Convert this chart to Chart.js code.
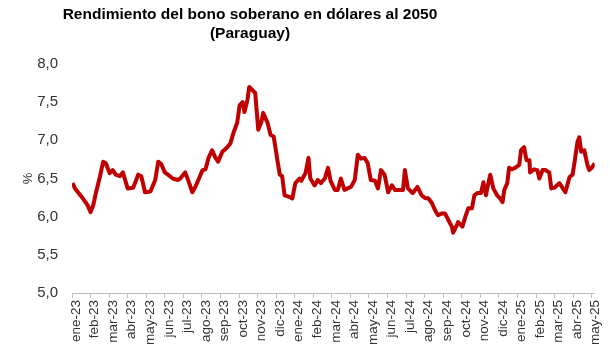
<!DOCTYPE html>
<html>
<head>
<meta charset="utf-8">
<script src="https://cdn.jsdelivr.net/npm/chart.js@4.4.1/dist/chart.umd.min.js"></script>
<style>
  html, body { margin: 0; padding: 0; background: #fff; }
  canvas { display: block; }
</style>
</head>
<body>
<canvas id="bondChart" width="610" height="361"></canvas>
<script>
// Rendimiento bono soberano USD 2050 (Paraguay)

const titleLines = ['Rendimiento del bono soberano en dólares al 2050', '(Paraguay)'];

const monthLabels = [
  'ene-23','feb-23','mar-23','abr-23','may-23','jun-23','jul-23','ago-23','sep-23','oct-23','nov-23','dic-23',
  'ene-24','feb-24','mar-24','abr-24','may-24','jun-24','jul-24','ago-24','sep-24','oct-24','nov-24','dic-24',
  'ene-25','feb-25','mar-25','abr-25','may-25'
];

const yTicks = [5.0, 5.5, 6.0, 6.5, 7.0, 7.5, 8.0];

const dates = [
  '2023-01-02','2023-01-06','2023-01-11','2023-01-19','2023-01-27','2023-02-01','2023-02-05','2023-02-09',
  '2023-02-15','2023-02-20','2023-02-24','2023-03-02','2023-03-07','2023-03-12','2023-03-19','2023-03-24',
  '2023-04-01','2023-04-10','2023-04-18','2023-04-23','2023-04-29','2023-05-08','2023-05-16','2023-05-21',
  '2023-05-26','2023-06-01','2023-06-06','2023-06-14','2023-06-22','2023-06-26','2023-07-04','2023-07-09',
  '2023-07-16','2023-07-21','2023-07-26','2023-08-02','2023-08-07','2023-08-12','2023-08-18','2023-08-23',
  '2023-08-28','2023-09-04','2023-09-12','2023-09-17','2023-09-22','2023-09-28','2023-10-02','2023-10-07',
  '2023-10-10','2023-10-15','2023-10-18','2023-10-23','2023-10-28','2023-11-02','2023-11-07','2023-11-10',
  '2023-11-17','2023-11-22','2023-11-27','2023-12-03','2023-12-07','2023-12-11','2023-12-15','2023-12-23',
  '2023-12-28','2024-01-02','2024-01-09','2024-01-12','2024-01-19','2024-01-24','2024-01-27','2024-02-03',
  '2024-02-08','2024-02-13','2024-02-19','2024-02-24','2024-02-28','2024-03-06','2024-03-11','2024-03-16',
  '2024-03-22','2024-03-27','2024-04-02','2024-04-08','2024-04-13','2024-04-18','2024-04-24','2024-04-29',
  '2024-05-04','2024-05-11','2024-05-16','2024-05-21','2024-05-27','2024-06-02','2024-06-08','2024-06-13',
  '2024-06-21','2024-06-26','2024-06-29','2024-07-04','2024-07-12','2024-07-20','2024-07-27','2024-08-02',
  '2024-08-07','2024-08-13','2024-08-18','2024-08-23','2024-08-29','2024-09-04','2024-09-09','2024-09-15',
  '2024-09-17','2024-09-23','2024-09-25','2024-10-02','2024-10-07','2024-10-12','2024-10-18','2024-10-22',
  '2024-10-27','2024-11-02','2024-11-06','2024-11-10','2024-11-14','2024-11-17','2024-11-22','2024-11-28',
  '2024-12-03','2024-12-07','2024-12-10','2024-12-15','2024-12-18','2024-12-23','2024-12-28','2025-01-04',
  '2025-01-07','2025-01-12','2025-01-16','2025-01-21','2025-01-22','2025-01-29','2025-02-03','2025-02-06',
  '2025-02-11','2025-02-15','2025-02-21','2025-02-24','2025-03-01','2025-03-09','2025-03-14','2025-03-19',
  '2025-03-26','2025-03-31','2025-04-03','2025-04-08','2025-04-11','2025-04-14','2025-04-19','2025-04-24',
  '2025-04-27','2025-05-01','2025-05-06'
];

const yields = [
  6.44,6.37,6.32,6.24,6.15,6.06,6.15,6.31,
  6.52,6.72,6.70,6.57,6.61,6.55,6.53,6.58,
  6.37,6.38,6.55,6.53,6.32,6.33,6.48,6.72,
  6.69,6.58,6.55,6.50,6.48,6.50,6.58,6.48,
  6.32,6.39,6.48,6.61,6.62,6.77,6.87,6.78,
  6.72,6.85,6.91,6.96,7.10,7.23,7.46,7.50,
  7.37,7.53,7.70,7.66,7.62,7.14,7.24,7.36,
  7.23,7.07,7.05,6.74,6.55,6.53,6.28,6.26,
  6.24,6.44,6.50,6.47,6.57,6.77,6.50,6.41,
  6.48,6.44,6.50,6.64,6.47,6.35,6.35,6.50,
  6.35,6.37,6.39,6.48,6.81,6.76,6.77,6.70,
  6.48,6.47,6.37,6.61,6.55,6.32,6.41,6.35,
  6.35,6.35,6.61,6.37,6.31,6.39,6.28,6.24,
  6.24,6.18,6.09,6.02,6.04,6.04,5.96,5.87,
  5.79,5.89,5.93,5.87,6.00,6.11,6.11,6.28,
  6.31,6.31,6.45,6.28,6.44,6.55,6.37,6.28,
  6.24,6.19,6.35,6.44,6.64,6.62,6.64,6.68,
  6.87,6.91,6.74,6.74,6.58,6.62,6.61,6.50,
  6.61,6.61,6.58,6.37,6.38,6.44,6.38,6.32,
  6.52,6.55,6.70,6.98,7.04,6.85,6.87,6.68,
  6.61,6.64,6.70
];

// date string -> fractional month index counted from ene-23
function monthIndex(str){
  const [y, m, d] = str.split('-').map(Number);
  const daysInMonth = new Date(y, m, 0).getDate();
  return (y - 2023) * 12 + (m - 1) + (d - 1) / daysInMonth;
}

const points = dates.map((d, i) => ({ x: monthIndex(d), y: yields[i] }));
const fmt = v => v.toFixed(1).replace('.', ',');

const titlePlugin = {
  id: 'excelTitle',
  afterDraw(chart){
    const ctx = chart.ctx;
    ctx.save();
    ctx.fillStyle = '#000';
    ctx.font = 'bold 15.5px "Liberation Sans", Arial, sans-serif';
    ctx.textAlign = 'center';
    ctx.textBaseline = 'middle';
    titleLines.forEach((t, i) => ctx.fillText(t, 250, 15 + i * 19));
    ctx.restore();
  }
};

new Chart(document.getElementById('bondChart').getContext('2d'), {
  type: 'line',
  data: {
    datasets: [{
      data: points,
      borderColor: '#C00000',
      borderWidth: 4,
      borderJoinStyle: 'round',
      pointRadius: 0,
      tension: 0,
      fill: false
    }]
  },
  options: {
    responsive: false,
    animation: false,
    layout: { padding: { top: 64, right: 15, left: 0, bottom: 0 } },
    plugins: { legend: { display: false }, tooltip: { enabled: false }, title: { display: false } },
    scales: {
      x: {
        type: 'linear',
        min: 0,
        max: points[points.length - 1].x,
        afterBuildTicks: s => { s.ticks = monthLabels.map((_, i) => ({ value: i })); },
        afterFit: s => { s.height = 68; },
        ticks: {
          autoSkip: false,
          minRotation: 90,
          maxRotation: 90,
          labelOffset: 4,
          padding: 2,
          color: '#333',
          font: { family: '"Liberation Sans", Arial, sans-serif', size: 13.5 },
          callback: v => monthLabels[v]
        },
        grid: { drawOnChartArea: false, drawTicks: true, tickLength: 5, color: '#bfbfbf' },
        border: { display: true, color: '#bfbfbf', width: 1 }
      },
      y: {
        min: 5,
        max: 8,
        afterBuildTicks: s => { s.ticks = yTicks.map(v => ({ value: v })); },
        afterFit: s => { s.width = 72; },
        ticks: {
          padding: 14,
          color: '#333',
          font: { family: '"Liberation Sans", Arial, sans-serif', size: 15 },
          callback: v => fmt(v)
        },
        grid: { display: false, drawTicks: false },
        border: { display: false },
        title: {
          display: true,
          text: '%',
          color: '#333',
          padding: { top: 21, bottom: 0 },
          font: { family: '"Liberation Sans", Arial, sans-serif', size: 13 }
        }
      }
    }
  },
  plugins: [titlePlugin]
});
</script>
</body>
</html>
